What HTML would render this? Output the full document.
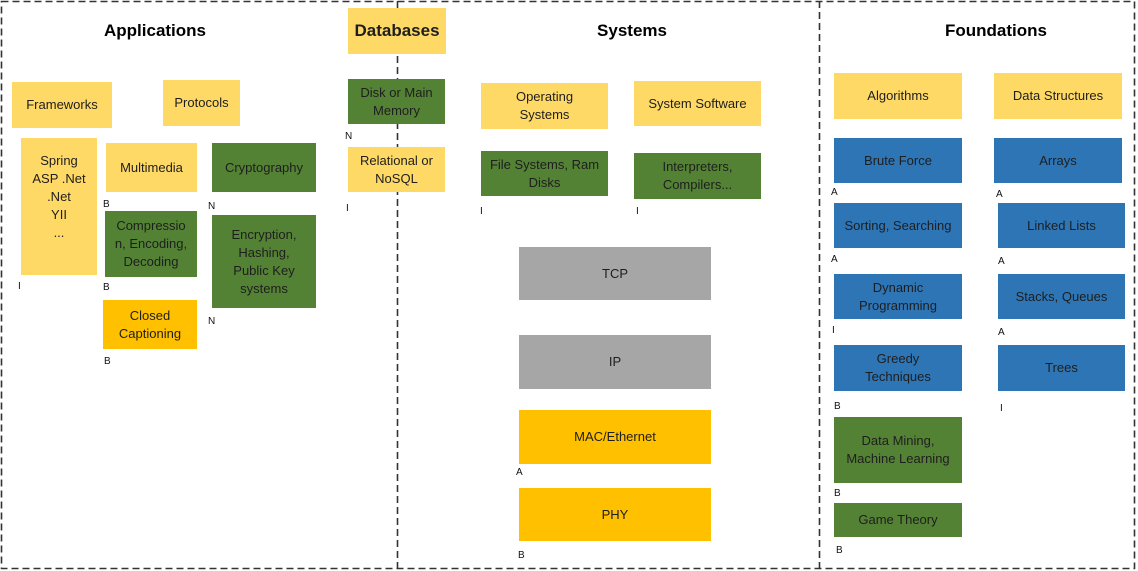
<!DOCTYPE html>
<html><head><meta charset="utf-8"><style>
body{margin:0;width:1138px;height:571px;background:#fff;position:relative;overflow:hidden;font-family:"Liberation Sans",sans-serif;}
.b{position:absolute;display:flex;align-items:center;justify-content:center;text-align:center;font-size:13px;line-height:18px;color:#1e1e1e;box-sizing:border-box;padding:0 2px;}
.y{background:#FFD966}.o{background:#FFC000}.g{background:#548235}.u{background:#2E75B6}.s{background:#A6A6A6}
.l{position:absolute;font-size:10px;color:#111;margin-top:2px;}
.t{position:absolute;font-weight:bold;font-size:17px;color:#000;transform:translateX(-50%);}
svg{position:absolute;left:0;top:0;}
</style></head><body>
<svg width="1138" height="571">
<g stroke="#333" stroke-width="1.6" stroke-dasharray="7,4" fill="none">
<rect x="1.5" y="1.5" width="1133" height="567"/>
<line x1="397.5" y1="1" x2="397.5" y2="569"/>
<line x1="819.5" y1="1" x2="819.5" y2="569"/>
</g></svg>

<div class="t" style="left:155px;top:21px">Applications</div>
<div class="b y" style="left:348px;top:8px;width:98px;height:46px;font-weight:bold;font-size:17px">Databases</div>
<div class="t" style="left:632px;top:21px">Systems</div>
<div class="t" style="left:996px;top:21px">Foundations</div>

<div class="b y" style="left:12px;top:82px;width:100px;height:46px">Frameworks</div>
<div class="b y" style="left:163px;top:80px;width:77px;height:46px">Protocols</div>
<div class="b y" style="left:21px;top:138px;width:76px;height:137px;align-items:flex-start;padding-top:14px">Spring<br>ASP .Net<br>.Net<br>YII<br>...</div>
<div class="l" style="left:18px;top:279px">I</div>
<div class="b y" style="left:106px;top:143px;width:91px;height:49px">Multimedia</div>
<div class="l" style="left:103px;top:197px">B</div>
<div class="b g" style="left:105px;top:211px;width:92px;height:66px">Compressio<br>n, Encoding,<br>Decoding</div>
<div class="l" style="left:103px;top:280px">B</div>
<div class="b o" style="left:103px;top:300px;width:94px;height:49px">Closed<br>Captioning</div>
<div class="l" style="left:104px;top:354px">B</div>
<div class="b g" style="left:212px;top:143px;width:104px;height:49px">Cryptography</div>
<div class="l" style="left:208px;top:199px">N</div>
<div class="b g" style="left:212px;top:215px;width:104px;height:93px">Encryption,<br>Hashing,<br>Public Key<br>systems</div>
<div class="l" style="left:208px;top:314px">N</div>

<div class="b g" style="left:348px;top:79px;width:97px;height:45px">Disk or Main<br>Memory</div>
<div class="l" style="left:345px;top:129px">N</div>
<div class="b y" style="left:348px;top:147px;width:97px;height:45px">Relational or<br>NoSQL</div>
<div class="l" style="left:346px;top:201px">I</div>

<div class="b y" style="left:481px;top:83px;width:127px;height:46px">Operating<br>Systems</div>
<div class="b y" style="left:634px;top:81px;width:127px;height:45px">System Software</div>
<div class="b g" style="left:481px;top:151px;width:127px;height:45px">File Systems, Ram<br>Disks</div>
<div class="l" style="left:480px;top:204px">I</div>
<div class="b g" style="left:634px;top:153px;width:127px;height:46px">Interpreters,<br>Compilers...</div>
<div class="l" style="left:636px;top:204px">I</div>
<div class="b s" style="left:519px;top:247px;width:192px;height:53px">TCP</div>
<div class="b s" style="left:519px;top:335px;width:192px;height:54px">IP</div>
<div class="b o" style="left:519px;top:410px;width:192px;height:54px">MAC/Ethernet</div>
<div class="l" style="left:516px;top:465px">A</div>
<div class="b o" style="left:519px;top:488px;width:192px;height:53px">PHY</div>
<div class="l" style="left:518px;top:548px">B</div>

<div class="b y" style="left:834px;top:73px;width:128px;height:46px">Algorithms</div>
<div class="b y" style="left:994px;top:73px;width:128px;height:46px">Data Structures</div>
<div class="b u" style="left:834px;top:138px;width:128px;height:45px">Brute Force</div>
<div class="l" style="left:831px;top:185px">A</div>
<div class="b u" style="left:994px;top:138px;width:128px;height:45px">Arrays</div>
<div class="l" style="left:996px;top:187px">A</div>
<div class="b u" style="left:834px;top:203px;width:128px;height:45px">Sorting, Searching</div>
<div class="l" style="left:831px;top:252px">A</div>
<div class="b u" style="left:998px;top:203px;width:127px;height:45px">Linked Lists</div>
<div class="l" style="left:998px;top:254px">A</div>
<div class="b u" style="left:834px;top:274px;width:128px;height:45px">Dynamic<br>Programming</div>
<div class="l" style="left:832px;top:323px">I</div>
<div class="b u" style="left:998px;top:274px;width:127px;height:45px">Stacks, Queues</div>
<div class="l" style="left:998px;top:325px">A</div>
<div class="b u" style="left:834px;top:345px;width:128px;height:46px">Greedy<br>Techniques</div>
<div class="l" style="left:834px;top:399px">B</div>
<div class="b u" style="left:998px;top:345px;width:127px;height:46px">Trees</div>
<div class="l" style="left:1000px;top:401px">I</div>
<div class="b g" style="left:834px;top:417px;width:128px;height:66px">Data Mining,<br>Machine Learning</div>
<div class="l" style="left:834px;top:486px">B</div>
<div class="b g" style="left:834px;top:503px;width:128px;height:34px">Game Theory</div>
<div class="l" style="left:836px;top:543px">B</div>
</body></html>
